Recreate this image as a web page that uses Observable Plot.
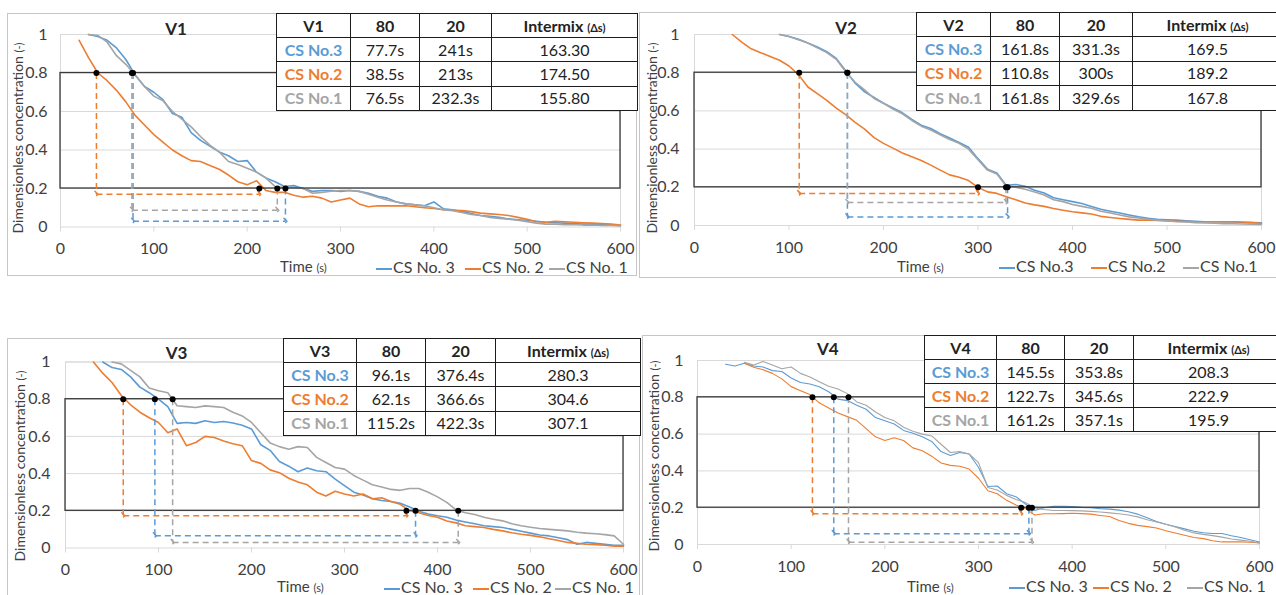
<!DOCTYPE html>
<html><head><meta charset="utf-8">
<script src="https://cdn.jsdelivr.net/npm/d3@7"></script>
<script src="https://cdn.jsdelivr.net/npm/@observablehq/plot@0.6"></script>
<style>
html,body{margin:0;padding:0;background:#fff;}
body{width:1276px;height:595px;overflow:hidden;position:relative;font-family:Lato,"Open Sans",sans-serif;color:#404040;}
.panel{position:absolute;border:1px solid #c6c6c6;box-sizing:border-box;}
.abs{position:absolute;white-space:nowrap;line-height:1;}
svg.chart{position:absolute;overflow:visible;}
table.tb{position:absolute;border-collapse:collapse;table-layout:fixed;background:#fff;font-size:16px;color:#222;}
table.tb td{border:1.6px solid #1c1c1c;text-align:center;padding:0;line-height:1;overflow:hidden;white-space:nowrap;}
table.tb tr.h td{font-weight:700;}
.sm{font-size:11px;}
.lg{display:inline-block;width:16px;height:2px;vertical-align:middle;margin-right:1px;}
</style></head>
<body>
<script>
// ---------------- data ----------------
const T = [0,10,20,30,40,50,60,70,80,90,100,110,120,130,140,150,160,170,180,190,200,210,220,230,240,250,260,270,280,290,300,310,320,330,340,350,360,370,380,390,400,410,420,430,440,450,460,470,480,490,500,510,520,530,540,550,560,570,580,590,600];
const seriesNames = ["CS No.3","CS No.2","CS No.1"];
const xTicks = [0,100,200,300,400,500,600];
const yTicks = [0,0.2,0.4,0.6,0.8,1];
const thresholds = [0.2,0.8];

// V1
const v1_cs3 = [null,null,null,1.0,0.99,0.97,0.93,0.87,0.79,0.73,0.70,0.66,0.59,0.57,0.49,0.45,0.42,0.39,0.37,0.34,0.345,0.285,0.255,0.235,0.21,0.215,0.20,0.185,0.19,0.19,0.185,0.19,0.185,0.175,0.16,0.15,0.13,0.12,0.115,0.11,0.13,0.095,0.09,0.08,0.07,0.06,0.055,0.05,0.042,0.038,0.035,0.03,0.025,0.022,0.02,0.018,0.015,0.015,0.012,0.01,0.008];
const v1_cs2 = [null,null,0.97,0.88,0.80,0.76,0.71,0.65,0.58,0.53,0.48,0.44,0.40,0.37,0.345,0.34,0.32,0.30,0.27,0.235,0.22,0.24,0.19,0.18,0.18,0.165,0.155,0.16,0.15,0.13,0.14,0.15,0.12,0.105,0.11,0.11,0.11,0.11,0.105,0.10,0.096,0.09,0.087,0.085,0.08,0.072,0.068,0.065,0.06,0.05,0.04,0.027,0.025,0.03,0.027,0.025,0.022,0.02,0.018,0.015,0.01];
const v1_cs1 = [null,null,null,1.0,0.995,0.96,0.89,0.845,0.79,0.73,0.68,0.655,0.60,0.56,0.52,0.47,0.425,0.39,0.34,0.325,0.305,0.285,0.255,0.21,0.205,0.205,0.20,0.175,0.18,0.186,0.19,0.19,0.185,0.17,0.155,0.14,0.13,0.12,0.115,0.11,0.10,0.09,0.085,0.075,0.065,0.06,0.05,0.045,0.04,0.035,0.028,0.02,0.015,0.015,0.012,0.012,0.01,0.01,0.008,0.008,0.006];
const v1_t80 = [77.7,38.5,76.5];
const v1_t20 = [241,213,232.3];
const v1_mix = ["163.30","174.50","155.80"];
const v1_arrowY = [0.03,0.17,0.087];

// V2
const v2_cs3 = [null,null,null,null,null,null,null,null,null,1.0,0.99,0.975,0.955,0.935,0.91,0.875,0.81,0.745,0.70,0.67,0.64,0.615,0.59,0.555,0.525,0.508,0.48,0.458,0.435,0.41,0.35,0.295,0.275,0.21,0.215,0.205,0.185,0.17,0.145,0.135,0.125,0.115,0.10,0.085,0.075,0.065,0.055,0.045,0.038,0.033,0.03,0.028,0.025,0.022,0.02,0.02,0.018,0.018,0.016,0.015,0.014];
const v2_cs2 = [null,null,null,null,1.0,0.96,0.925,0.905,0.885,0.865,0.835,0.79,0.725,0.69,0.655,0.615,0.58,0.54,0.505,0.46,0.43,0.405,0.38,0.36,0.34,0.316,0.29,0.265,0.253,0.235,0.20,0.176,0.168,0.15,0.135,0.118,0.108,0.10,0.089,0.08,0.072,0.066,0.06,0.048,0.042,0.037,0.032,0.028,0.028,0.027,0.024,0.022,0.021,0.02,0.02,0.02,0.02,0.02,0.018,0.015,0.01];
const v2_cs1 = [null,null,null,null,null,null,null,null,null,1.0,0.99,0.972,0.955,0.93,0.905,0.87,0.805,0.75,0.71,0.665,0.64,0.61,0.585,0.55,0.52,0.50,0.475,0.45,0.43,0.40,0.345,0.29,0.27,0.205,0.20,0.19,0.175,0.16,0.135,0.125,0.11,0.10,0.09,0.075,0.065,0.055,0.045,0.04,0.033,0.028,0.025,0.02,0.018,0.015,0.013,0.012,0.01,0.009,0.008,0.007,0.006];
const v2_t80 = [161.8,110.8,161.8];
const v2_t20 = [331.3,300,329.6];
const v2_mix = ["169.5","189.2","167.8"];
const v2_arrowY = [0.045,0.167,0.12];

// V3
const v3_cs3 = [null,null,null,null,1.0,0.97,0.96,0.92,0.865,0.835,0.80,0.76,0.67,0.675,0.67,0.684,0.675,0.68,0.672,0.66,0.64,0.555,0.525,0.465,0.44,0.41,0.43,0.415,0.41,0.37,0.335,0.30,0.285,0.265,0.255,0.25,0.24,0.22,0.198,0.183,0.173,0.165,0.15,0.14,0.13,0.12,0.115,0.11,0.10,0.09,0.08,0.07,0.065,0.055,0.045,0.02,0.03,0.025,0.02,0.015,0.015];
const v3_cs2 = [null,null,null,1.0,0.94,0.89,0.82,0.77,0.73,0.70,0.675,0.62,0.64,0.55,0.567,0.60,0.594,0.575,0.56,0.55,0.47,0.455,0.42,0.405,0.375,0.355,0.34,0.30,0.28,0.305,0.29,0.28,0.29,0.265,0.27,0.25,0.235,0.20,0.19,0.175,0.165,0.145,0.135,0.12,0.115,0.11,0.10,0.092,0.082,0.074,0.068,0.06,0.05,0.04,0.03,0.025,0.02,0.018,0.015,0.01,0.01];
const v3_cs1 = [null,null,null,null,null,1.0,0.99,0.955,0.92,0.86,0.845,0.835,0.765,0.76,0.755,0.764,0.76,0.755,0.73,0.71,0.675,0.62,0.565,0.545,0.531,0.545,0.54,0.487,0.46,0.433,0.424,0.39,0.365,0.34,0.328,0.315,0.31,0.32,0.32,0.30,0.275,0.245,0.205,0.19,0.18,0.165,0.155,0.146,0.13,0.12,0.112,0.105,0.10,0.096,0.092,0.085,0.08,0.077,0.072,0.065,0.02];
const v3_t80 = [96.1,62.1,115.2];
const v3_t20 = [376.4,366.6,422.3];
const v3_mix = ["280.3","304.6","307.1"];
const v3_arrowY = [0.066,0.173,0.03];

// V4
const v4_cs3 = [null,null,null,0.98,0.97,0.985,0.97,0.965,0.945,0.94,0.905,0.88,0.872,0.857,0.83,0.79,0.782,0.757,0.735,0.69,0.672,0.655,0.62,0.605,0.585,0.56,0.505,0.484,0.50,0.492,0.42,0.315,0.318,0.276,0.26,0.22,0.185,0.20,0.208,0.207,0.206,0.202,0.20,0.195,0.192,0.187,0.178,0.165,0.145,0.125,0.11,0.098,0.085,0.072,0.064,0.06,0.06,0.048,0.038,0.026,0.014];
const v4_cs2 = [null,null,null,null,null,0.985,0.963,0.95,0.93,0.90,0.858,0.836,0.815,0.77,0.742,0.715,0.695,0.675,0.63,0.585,0.565,0.58,0.565,0.525,0.51,0.48,0.443,0.43,0.425,0.41,0.36,0.292,0.276,0.24,0.215,0.195,0.16,0.167,0.167,0.168,0.17,0.168,0.165,0.158,0.152,0.13,0.115,0.104,0.097,0.09,0.075,0.062,0.05,0.038,0.032,0.02,0.014,0.014,0.014,0.012,0.008];
const v4_cs1 = [null,null,null,null,null,0.99,0.975,0.995,0.975,0.955,0.965,0.93,0.91,0.885,0.86,0.845,0.82,0.775,0.757,0.72,0.69,0.672,0.637,0.615,0.60,0.59,0.545,0.50,0.505,0.492,0.445,0.31,0.296,0.267,0.245,0.228,0.198,0.19,0.185,0.185,0.184,0.183,0.18,0.177,0.172,0.167,0.16,0.15,0.135,0.122,0.11,0.095,0.077,0.063,0.055,0.048,0.04,0.03,0.024,0.018,0.008];
const v4_t80 = [145.5,122.7,161.2];
const v4_t20 = [353.8,345.6,357.1];
const v4_mix = ["208.3","222.9","195.9"];
const v4_arrowY = [0.059,0.167,0.012];

// ---------------- styles / layout ----------------
const colors = ["#5B9BD5","#ED7D31","#A5A5A5"];
const panels = [
  {name:"V1", values:[v1_cs3,v1_cs2,v1_cs1], t80:v1_t80, t20:v1_t20, mix:v1_mix, arrowY:v1_arrowY,
   frame:[7,13,630,263], plot:[60,620,34,226.5], title:[176,27.5], tpad:13, sw:1.6,
   table:{left:276, top:13, cols:[74,69,72,146], row:24.2},
   ylab:[18.4,138.3], xlab:[280,266], legY:267, legX:[376,465,549], legNames:["CS No. 3","CS No. 2","CS No. 1"]},
  {name:"V2", values:[v2_cs3,v2_cs2,v2_cs1], t80:v2_t80, t20:v2_t20, mix:v2_mix, arrowY:v2_arrowY,
   frame:[639,12,640,266], plot:[694,1261,34,225], title:[846,26.7], tpad:15, sw:1.6,
   table:{left:916, top:12, cols:[74,69,73,150], row:24.4},
   ylab:[651.5,138], xlab:[897,266], legY:266, legX:[999,1091,1183], legNames:["CS No.3","CS No.2","CS No.1"]},
  {name:"V3", values:[v3_cs3,v3_cs2,v3_cs1], t80:v3_t80, t20:v3_t20, mix:v3_mix, arrowY:v3_arrowY,
   frame:[7,338,633,262], plot:[65,623,361.5,547.5], title:[176.5,351.7], tpad:15, sw:1.6,
   table:{left:283, top:338, cols:[73,69,70,145], row:24.2},
   ylab:[20.4,465.8], xlab:[277,586], legY:587, legX:[384,473,555], legNames:["CS No. 3","CS No. 2","CS No. 1"]},
  {name:"V4", values:[v4_cs3,v4_cs2,v4_cs1], t80:v4_t80, t20:v4_t20, mix:v4_mix, arrowY:v4_arrowY,
   frame:[642,335,640,265], plot:[697,1259,360,544], title:[827.8,348], tpad:14, sw:1.1,
   table:{left:924, top:335, cols:[72,68,69,150], row:24.1},
   ylab:[654.4,455.8], xlab:[907,586], legY:586, legX:[1009,1093,1187], legNames:["CS No. 3","CS No. 2","CS No. 1"]}
];

function el(tag, cls, html, css) {
  const e = document.createElement(tag);
  if (cls) e.className = cls;
  if (html != null) e.innerHTML = html;
  if (css) Object.assign(e.style, css);
  document.body.appendChild(e);
  return e;
}

function drawPanel(P) {
  const [fx, fy, fw, fh] = P.frame;
  const [px0, px1, py1, py0] = P.plot;
  el("div", "panel", null, {left: fx+"px", top: fy+"px", width: fw+"px", height: fh+"px"});

  const band = [{x1: xTicks[0], x2: xTicks[xTicks.length-1], y1: thresholds[0], y2: thresholds[1]}];
  const guides = P.t80.map((t80, i) => ({t80, t20: P.t20[i], ya: P.arrowY[i], c: colors[i]}));
  const lineMarks = P.values.map((vals, i) =>
    Plot.line(T.map((t, j) => ({t, v: vals[j]})), {x: "t", y: "v", stroke: colors[i], strokeWidth: P.sw}));
  const dots = [];
  guides.forEach(g => { dots.push({x: g.t80, y: thresholds[1]}); dots.push({x: g.t20, y: thresholds[0]}); });

  const svg = Plot.plot({
    width: fw, height: fh,
    marginLeft: px0 - fx, marginRight: fx + fw - px1, marginTop: py1 - fy, marginBottom: fy + fh - py0,
    x: {domain: [xTicks[0], xTicks[xTicks.length-1]]},
    y: {domain: [yTicks[0], yTicks[yTicks.length-1]]},
    style: {fontFamily: "Lato, sans-serif", fontSize: "16px", background: "transparent", color: "#404040"},
    marks: [
      Plot.gridY({ticks: yTicks.slice(1), stroke: "#d9d9d9", strokeOpacity: 1}),
      Plot.frame({stroke: "#d9d9d9"}),
      Plot.axisX({ticks: xTicks, tickSize: 5, tickPadding: 11, stroke: "#d9d9d9", fill: "#404040", label: null}),
      Plot.axisY({ticks: yTicks, tickSize: 0, tickPadding: P.tpad, fill: "#404040", tickFormat: d3.format("~g"), label: null}),
      ...lineMarks,
      Plot.rect(band, {x1: "x1", x2: "x2", y1: "y1", y2: "y2", fill: "none", stroke: "#3a3a3a", strokeWidth: 1.3}),
      Plot.link(guides, {x1: "t80", x2: "t80", y1: () => thresholds[1], y2: "ya", stroke: "c", strokeWidth: 1.5, strokeDasharray: "6,4"}),
      Plot.link(guides, {x1: "t20", x2: "t20", y1: () => thresholds[0], y2: "ya", stroke: "c", strokeWidth: 1.5, strokeDasharray: "6,4"}),
      Plot.link(guides, {x1: "t80", x2: "t20", y1: "ya", y2: "ya", stroke: "c", strokeWidth: 1.5, strokeDasharray: "6,4", markerStart: "arrow", markerEnd: "arrow"}),
      Plot.dot(dots, {x: "x", y: "y", r: 3, fill: "#000", stroke: "none"})
    ]
  });
  svg.classList.add("chart");
  svg.style.left = fx + "px"; svg.style.top = fy + "px";
  document.body.appendChild(svg);

  // title
  el("div", "abs", P.name, {left: P.title[0]+"px", top: P.title[1]+"px", transform: "translate(-50%,-50%)", fontWeight: 700, fontSize: "17px", color: "#262626"});
  // y label
  el("div", "abs", 'Dimensionless concentration <span class="sm">(-)</span>', {left: P.ylab[0]+"px", top: P.ylab[1]+"px", transform: "translate(-50%,-50%) rotate(-90deg)", fontSize: "14px"});
  // x label
  el("div", "abs", 'Time <span class="sm">(s)</span>', {left: P.xlab[0]+"px", top: P.xlab[1]+"px", transform: "translate(0,-50%)", fontSize: "15px"});
  // legend
  P.legNames.forEach((n, i) => {
    el("div", "abs", '<span class="lg" style="background:' + colors[i] + '"></span>' + n,
      {left: P.legX[i]+"px", top: (P.legY - 8)+"px", fontSize: "16px"});
  });
  // table
  const tb = P.table;
  let html = "<colgroup>" + tb.cols.map(w => '<col style="width:' + w + 'px">').join("") + "</colgroup>";
  html += '<tr class="h" style="height:' + tb.row + 'px"><td>' + P.name + "</td><td>80</td><td>20</td><td>Intermix <span class=\"sm\">(\u0394s)</span></td></tr>";
  seriesNames.forEach((s, i) => {
    html += '<tr style="height:' + tb.row + 'px"><td style="color:' + colors[i] + ';font-weight:700">' + s + "</td><td>" + P.t80[i] + "s</td><td>" + P.t20[i] + "s</td><td>" + P.mix[i] + "</td></tr>";
  });
  el("table", "tb", html, {left: tb.left+"px", top: tb.top+"px", width: d3.sum(tb.cols)+"px"});
}

panels.forEach(drawPanel);
</script>
</body></html>
